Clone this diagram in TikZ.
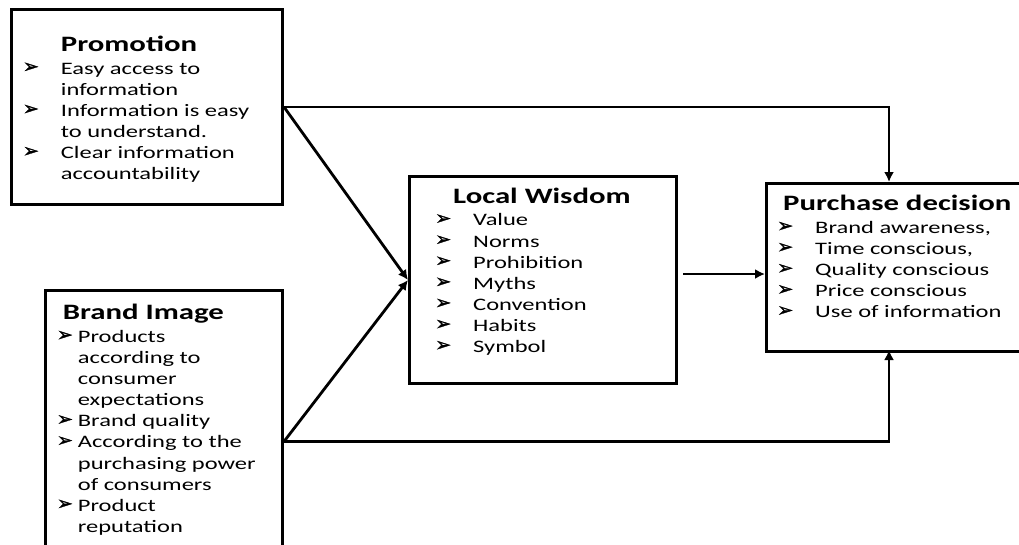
\documentclass[tikz,border=0pt]{standalone}
\usepackage{fontspec}
\setmainfont{Carlito}[FakeStretch=1.4]
\newfontfamily\dejavu{DejaVu Sans}[FakeBold=1.5]
\usetikzlibrary{calc, positioning, arrows.meta}
\newcommand\bul{\raisebox{1.5pt}{\resizebox{16pt}{10pt}{\dejavu ➢}}}
\newcommand\headfont{\fontsize{22}{24}\selectfont\bfseries}
\newcommand\bodyfont{\fontsize{17.5}{21.1}\selectfont}
\tikzset{
	box/.style={draw, line width=3pt, anchor=north west, inner sep=0pt},
	listtext/.style={anchor=north west, inner sep=0pt, font=\bodyfont},
	link/.style={line width=2.8pt, -{Latex[length=10pt,width=10pt]}},
}

\begin{document}
\begin{tikzpicture}[x=1pt,y=-1pt]
	\useasboundingbox (0,0) rectangle (1019,544);
	% boxes
	\node[box, minimum width=271pt, minimum height=195pt] (promo) at (10,8) {};
	\node[box, minimum width=237pt, minimum height=302pt] (brand) at (44,289) {};
	\node[box, minimum width=267pt, minimum height=207pt] (wisdom) at (408,175) {};
	\node[box, minimum width=260pt, minimum height=168pt] (purchase) at (765,182) {};
	% texts
	\node[listtext] (promotext) at (22.7,35.9) {\begin{tabular}{@{}p{38pt}@{}l@{}}
		\multicolumn{2}{@{\hspace{38pt}}l@{}}{\headfont Promotion}\\[1.5pt]
		\bul & Easy access to\\
		 & information\\
		\bul & Information is easy\\
		 & to understand.\\
		\bul & Clear information\\
		 & accountability
	\end{tabular}};
	\node[listtext] (brandtext) at (56.7,304.2) {\begin{tabular}{@{}p{21pt}@{}l@{}}
		\multicolumn{2}{@{\hspace{6pt}}l@{}}{\headfont Brand Image}\\[1.5pt]
		\bul & Products\\
		 & according to\\
		 & consumer\\
		 & expectations\\
		\bul & Brand quality\\
		\bul & According to the\\
		 & purchasing power\\
		 & of consumers\\
		\bul & Product\\
		 & reputation
	\end{tabular}};
	\node[listtext] (wisdomtext) at (435,188.2) {\begin{tabular}{@{}p{38pt}@{}l@{}}
		\multicolumn{2}{@{\hspace{18pt}}l@{}}{\headfont Local Wisdom}\\[1pt]
		\bul & Value\\
		\bul & Norms\\
		\bul & Prohibition\\
		\bul & Myths\\
		\bul & Convention\\
		\bul & Habits\\
		\bul & Symbol
	\end{tabular}};
	\node[listtext] (purchasetext) at (777,195.2) {\begin{tabular}{@{}p{38pt}@{}l@{}}
		\multicolumn{2}{@{\hspace{6pt}}l@{}}{\headfont Purchase decision}\\[1.5pt]
		\bul & Brand awareness,\\
		\bul & Time conscious,\\
		\bul & Quality conscious\\
		\bul & Price conscious\\
		\bul & Use of information
	\end{tabular}};
	% connectors
	\coordinate (topin) at (889,182);
	\coordinate (botin) at (889,350);
	\draw[link] (promo.east) -| (topin);
	\draw[link] (promo.east) -- (wisdom.west);
	\draw[link] (brand.east) -- (wisdom.west);
	\draw[link] (brand.east) -| (botin);
	\draw[link] ([shift={(5pt,6pt)}]wisdom.east) -- ([yshift=6pt]wisdom.east -| purchase.west);
\end{tikzpicture}
\end{document}
